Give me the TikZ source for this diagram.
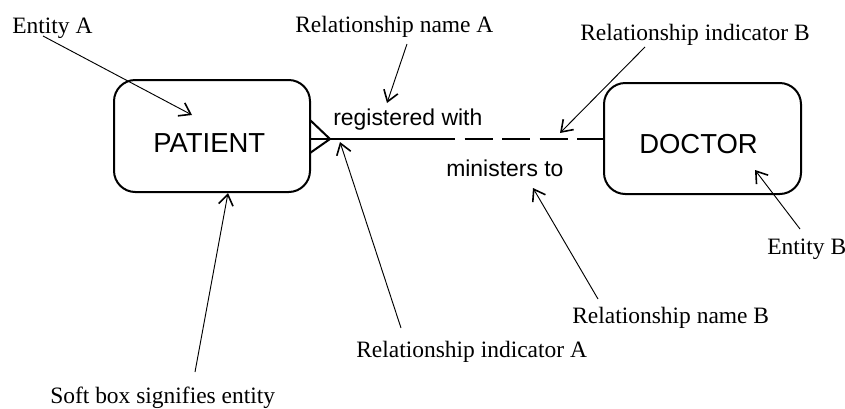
\documentclass[tikz,border=0pt]{standalone}
\usepackage{fontspec}
\setmainfont{Liberation Serif}
\setsansfont{Liberation Sans}
\usetikzlibrary{arrows.meta,calc}

\tikzset{
  entitybox/.style={draw, line width=1.5pt, rounded corners=16pt, inner sep=0pt},
  entityname/.style={font=\sffamily\fontsize{20.6pt}{24pt}\selectfont, anchor=base west, inner sep=0pt},
  relname/.style={font=\sffamily\fontsize{17.2pt}{20pt}\selectfont, anchor=base west, inner sep=0pt},
  note/.style={font=\fontsize{17.6pt}{20pt}\selectfont, anchor=base west, inner sep=0pt},
  pointer/.style={line width=0.7pt, -{Straight Barb[length=8pt,width=11pt,line width=1.2pt]}},
  link/.style={line width=1.5pt},
}

\begin{document}
\begin{tikzpicture}[x=0.75pt,y=-0.75pt]
\useasboundingbox (0,0) rectangle (845,408);

% the two entities
\node[entitybox, minimum width=196*0.75pt, minimum height=112*0.75pt] (patient) at (212,136) {};
\node[entitybox, minimum width=197*0.75pt, minimum height=111*0.75pt] (doctor) at (702.5,138.5) {};
\node[entityname] (patientname) at (153,152) {PATIENT};
\node[entityname] (doctorname) at (639,153) {DOCTOR};

% relationship line: crow's foot at the patient end, solid then dashed
\coordinate (crow) at (330,139);
\coordinate (footU) at (310,120);
\coordinate (footM) at (310,139);
\coordinate (footL) at (310,153);
\coordinate (mid) at (455,139);
\draw[link] (footU) -- (crow) -- (footL);
\draw[link] (footM) -- (mid);
\draw[link, dash pattern=on 28*0.75pt off 9.5*0.75pt, dash phase=28*0.75pt] (mid) -- (doctor.west |- mid);

\node[relname] (regwith) at (333,125) {registered with};
\node[relname] (ministers) at (446,176) {ministers to};

% annotations
\node[note] (entA) at (12,33) {Entity A};
\node[note] (relnameA) at (295,32) {Relationship name A};
\node[note] (relindB) at (580,40) {Relationship indicator B};
\node[note] (entB) at (767,254) {Entity B};
\node[note] (relnameB) at (572,323) {Relationship name B};
\node[note] (relindA) at (356,357) {Relationship indicator A};
\node[note] (softbox) at (50,403) {Soft box signifies entity};

\coordinate (sEntA) at (43,36);        \coordinate (tEntA) at (192,115);
\coordinate (sRelNameA) at (407,44);   \coordinate (tRelNameA) at (387,103);
\coordinate (sRelIndB) at (645,47);    \coordinate (tRelIndB) at (560,133);
\coordinate (sEntB) at (800,229);      \coordinate (tEntB) at (755,170);
\coordinate (sRelNameB) at (598,299);  \coordinate (tRelNameB) at (533,188);
\coordinate (sRelIndA) at (401,328);   \coordinate (tRelIndA) at (340,142);
\coordinate (sSoft) at (195,372);      \coordinate (tSoft) at (228,193);

\draw[pointer] (sEntA) -- (tEntA);
\draw[pointer] (sRelNameA) -- (tRelNameA);
\draw[pointer] (sRelIndB) -- (tRelIndB);
\draw[pointer] (sEntB) -- (tEntB);
\draw[pointer] (sRelNameB) -- (tRelNameB);
\draw[pointer] (sRelIndA) -- (tRelIndA);
\draw[pointer] (sSoft) -- (tSoft);
\end{tikzpicture}
\end{document}
